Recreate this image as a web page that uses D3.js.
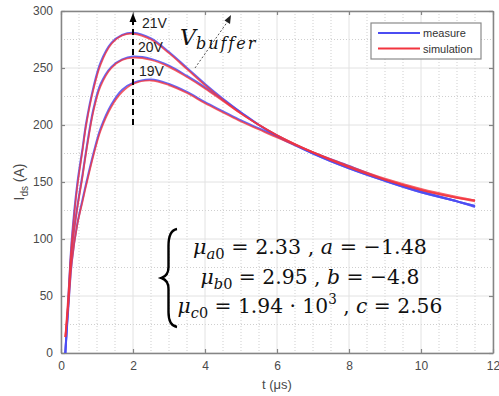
<!DOCTYPE html>
<html>
<head>
<meta charset="utf-8">
<script src="https://cdn.jsdelivr.net/npm/d3@7/dist/d3.min.js"></script>
<style>
  html, body { margin: 0; padding: 0; background: #fff; }
  svg { display: block; }
</style>
</head>
<body>
<svg id="chart" width="499" height="396"></svg>
<script>
// Sampling times (µs) shared by all curves
const times = [0.12, 0.2, 0.3, 0.45, 0.6, 0.7, 0.9, 1.1, 1.4, 1.7, 2.0, 2.5, 3.0, 3.5, 4.0, 4.5, 5.0, 5.5, 6.0, 7.0, 8.0, 9.0, 10.0, 11.0, 11.5];

// Drain current Ids (A), measured
const meas21 = [0, 45, 100, 148, 180, 202, 233, 255, 272, 279, 281, 276, 264, 250, 236, 223, 211, 200, 191, 175, 162, 151, 141, 133, 129];
const meas20 = [0, 42, 92, 128, 157, 178, 214, 236, 251, 257.5, 260, 258, 252, 243, 233, 222, 211, 200, 190, 175, 162, 151, 141, 133, 129];
const meas19 = [0, 38, 80, 113, 135, 149, 175, 197, 218, 231, 237, 240, 236, 229, 220, 212, 204, 197, 190, 176, 164, 152, 142, 133, 128];

// Drain current Ids (A), simulated
const sim21 = [14, 50, 98, 145, 178, 200, 231, 253, 271, 278.5, 280, 275, 263, 249, 235, 222, 210, 200, 191, 176, 163, 152, 143, 136, 133];
const sim20 = [14, 44, 90, 126, 155, 176, 212, 234, 250, 257, 259, 257, 251, 242, 232, 221, 210, 200, 191, 176, 163, 152, 143, 136, 134];
const sim19 = [14, 40, 80, 112, 133, 147, 173, 195, 216, 229, 236, 239, 235, 228, 219, 211, 203, 196, 189, 176, 164, 153, 144, 137, 134];

// Axis ticks
const xTicks = [0, 2, 4, 6, 8, 10, 12];
const yTicks = [0, 50, 100, 150, 200, 250, 300];
const xMinor = [0.5, 1, 1.5, 2.5, 3, 3.5, 4.5, 5, 5.5, 6.5, 7, 7.5, 8.5, 9, 9.5, 10.5, 11, 11.5];
const yMinor = [25, 75, 125, 175, 225, 275];

// Voltage labels and legend
const voltageLabels = ["21V", "20V", "19V"];
const legendNames = ["measure", "simulation"];

const svg = d3.select("#chart");
const pL = 61, pR = 493, pT = 11, pB = 353;
const x = d3.scaleLinear().domain([0, 12]).range([pL, pR]);
const y = d3.scaleLinear().domain([0, 300]).range([pB, pT]);

const axisColor = "#858585";
const labelColor = "#4a4a4a";
const sans = "'Liberation Sans', Arial, sans-serif";
const serif = "'DejaVu Serif', 'Liberation Serif', serif";

// Plot background
svg.append("rect").attr("x", pL).attr("y", pT)
  .attr("width", pR - pL).attr("height", pB - pT).attr("fill", "#fff");

// Minor grid (dotted)
const grid = svg.append("g");
grid.selectAll(".xm").data(xMinor).join("line")
  .attr("x1", d => x(d)).attr("x2", d => x(d)).attr("y1", pT).attr("y2", pB)
  .attr("stroke", "#cfcfcf").attr("stroke-width", 1).attr("stroke-dasharray", "1,2");
grid.selectAll(".ym").data(yMinor).join("line")
  .attr("y1", d => y(d)).attr("y2", d => y(d)).attr("x1", pL).attr("x2", pR)
  .attr("stroke", "#cfcfcf").attr("stroke-width", 1).attr("stroke-dasharray", "1,2");
// Major grid (solid)
grid.selectAll(".xM").data(xTicks).join("line")
  .attr("x1", d => x(d)).attr("x2", d => x(d)).attr("y1", pT).attr("y2", pB)
  .attr("stroke", "#e2e2e2").attr("stroke-width", 1);
grid.selectAll(".yM").data(yTicks).join("line")
  .attr("y1", d => y(d)).attr("y2", d => y(d)).attr("x1", pL).attr("x2", pR)
  .attr("stroke", "#e2e2e2").attr("stroke-width", 1);

// Axes: ticks point inward on all four sides
function styleAxis(g) {
  g.select(".domain").attr("stroke", axisColor).attr("stroke-width", 1.5);
  g.selectAll(".tick line").attr("stroke", axisColor).attr("stroke-width", 1.2);
  g.selectAll(".tick text").attr("fill", labelColor).attr("font-family", sans).attr("font-size", 12);
}
svg.append("g").attr("transform", `translate(0,${pB})`)
  .call(d3.axisBottom(x).tickValues(xTicks).tickSizeInner(-4).tickSizeOuter(0).tickPadding(8))
  .call(styleAxis);
svg.append("g").attr("transform", `translate(${pL},0)`)
  .call(d3.axisLeft(y).tickValues(yTicks).tickSizeInner(-4).tickSizeOuter(0).tickPadding(8))
  .call(styleAxis);
svg.append("g").attr("transform", `translate(0,${pT})`)
  .call(d3.axisTop(x).tickValues(xTicks).tickSizeInner(-4).tickSizeOuter(0).tickFormat(""))
  .call(styleAxis);
svg.append("g").attr("transform", `translate(${pR},0)`)
  .call(d3.axisRight(y).tickValues(yTicks).tickSizeInner(-4).tickSizeOuter(0).tickFormat(""))
  .call(styleAxis);

// Axis titles
svg.append("text").attr("x", (pL + pR) / 2).attr("y", 389)
  .attr("text-anchor", "middle").attr("fill", labelColor)
  .attr("font-family", sans).attr("font-size", 13).text("t (μs)");
const yl = svg.append("text")
  .attr("transform", `translate(24,${(pT + pB) / 2}) rotate(-90)`)
  .attr("text-anchor", "middle").attr("fill", labelColor)
  .attr("font-family", sans).attr("font-size", 14);
yl.append("tspan").text("I");
yl.append("tspan").attr("font-size", 10).attr("dy", 4).text("ds");
yl.append("tspan").attr("dy", -4).text(" (A)");

// Curves
const line = d3.line().x((d, i) => x(times[i])).y(d => y(d)).curve(d3.curveCatmullRom.alpha(0.5));
const plot = svg.append("g");
const measColor = "#4b4cf2", simColor = "#f2343f";
[meas21, meas20, meas19].forEach(s => {
  plot.append("path").datum(s).attr("d", line).attr("fill", "none")
    .attr("stroke", measColor).attr("stroke-width", 2).attr("stroke-opacity", 0.85);
});
[sim21, sim20, sim19].forEach(s => {
  plot.append("path").datum(s).attr("d", line).attr("fill", "none")
    .attr("stroke", simColor).attr("stroke-width", 1.7).attr("stroke-opacity", 0.8);
});

// Dashed arrow at t = 2 µs
const ax = x(2);
svg.append("line").attr("x1", ax).attr("x2", ax).attr("y1", y(200)).attr("y2", 21)
  .attr("stroke", "#000").attr("stroke-width", 2).attr("stroke-dasharray", "6,4");
svg.append("path").attr("d", `M${ax},13 L${ax - 3.5},22 L${ax + 3.5},22 Z`).attr("fill", "#000");

// Voltage labels
const vPos = [[142, 28], [138, 52], [139, 76]];
voltageLabels.forEach((t, i) => {
  svg.append("text").attr("x", vPos[i][0]).attr("y", vPos[i][1])
    .attr("fill", "#222").attr("font-family", sans)
    .attr("font-size", 14).text(t);
});

// Dotted arrow showing the V_buffer direction
svg.append("line").attr("x1", 195).attr("y1", 68).attr("x2", 228).attr("y2", 21)
  .attr("stroke", "#555").attr("stroke-width", 1).attr("stroke-dasharray", "2,2");
svg.append("path").attr("d", "M231,15 L224.5,20.5 L230,24 Z").attr("fill", "#222");

const vb = svg.append("text").attr("x", 180).attr("y", 45)
  .attr("fill", "#111").attr("font-family", serif).attr("font-style", "italic").attr("font-size", 22);
vb.append("tspan").text("V");
vb.append("tspan").attr("font-size", 16).attr("dy", 4).attr("letter-spacing", 2).text("buffer");

// Legend
const lg = svg.append("g");
lg.append("rect").attr("x", 371).attr("y", 23).attr("width", 110).attr("height", 36)
  .attr("fill", "#fff").attr("stroke", "#8a8a8a").attr("stroke-width", 1.2);
[measColor, simColor].forEach((c, i) => {
  const ly = 33 + i * 15.5;
  lg.append("line").attr("x1", 378).attr("x2", 420).attr("y1", ly).attr("y2", ly)
    .attr("stroke", c).attr("stroke-width", 2);
  lg.append("text").attr("x", 423).attr("y", ly + 4).attr("fill", "#333")
    .attr("font-family", sans).attr("font-size", 11).text(legendNames[i]);
});

// Parameter block with a curly brace
svg.append("path")
  .attr("d", "M177,229 C171,230 168.5,236 168.5,246 L168.5,267 C168.5,273 166,276.5 161.5,278 C166,279.5 168.5,283 168.5,289 L168.5,312 C168.5,321 171,326 177,327")
  .attr("fill", "none").attr("stroke", "#000").attr("stroke-width", 2.4);

const eqLines = [
  { base: 254, width: 234, parts: [["μ", "i"], ["a", "si"], ["0", "s"], [" = 2.33 , ", ""], ["a", "i"], [" = −1.48", ""]] },
  { base: 284, width: 219, parts: [["μ", "i"], ["b", "si"], ["0", "s"], [" = 2.95 , ", ""], ["b", "i"], [" = −4.8", ""]] },
  { base: 313, width: 265, parts: [["μ", "i"], ["c", "si"], ["0", "s"], [" = 1.94 · 10", ""], ["3", "p"], [" , ", ""], ["c", "i"], [" = 2.56", ""]] }
];
eqLines.forEach(l => {
  const g = svg.append("g");
  const t = g.append("text").attr("x", 0).attr("y", 0).attr("text-anchor", "middle")
    .attr("fill", "#111").attr("font-family", serif).attr("font-size", 21);
  let shift = 0;
  l.parts.forEach(([s, k]) => {
    const ts = t.append("tspan").text(s);
    let target = 0;
    if (k.includes("s")) { ts.attr("font-size", 15); target = 5; }
    if (k.includes("p")) { ts.attr("font-size", 14); target = -9; }
    if (k.includes("i")) ts.attr("font-style", "italic");
    ts.attr("dy", target - shift);
    shift = target;
  });
  const w = t.node().getBBox().width;
  g.attr("transform", `translate(310,${l.base}) scale(${l.width / w},1)`);
});
</script>
</body>
</html>
